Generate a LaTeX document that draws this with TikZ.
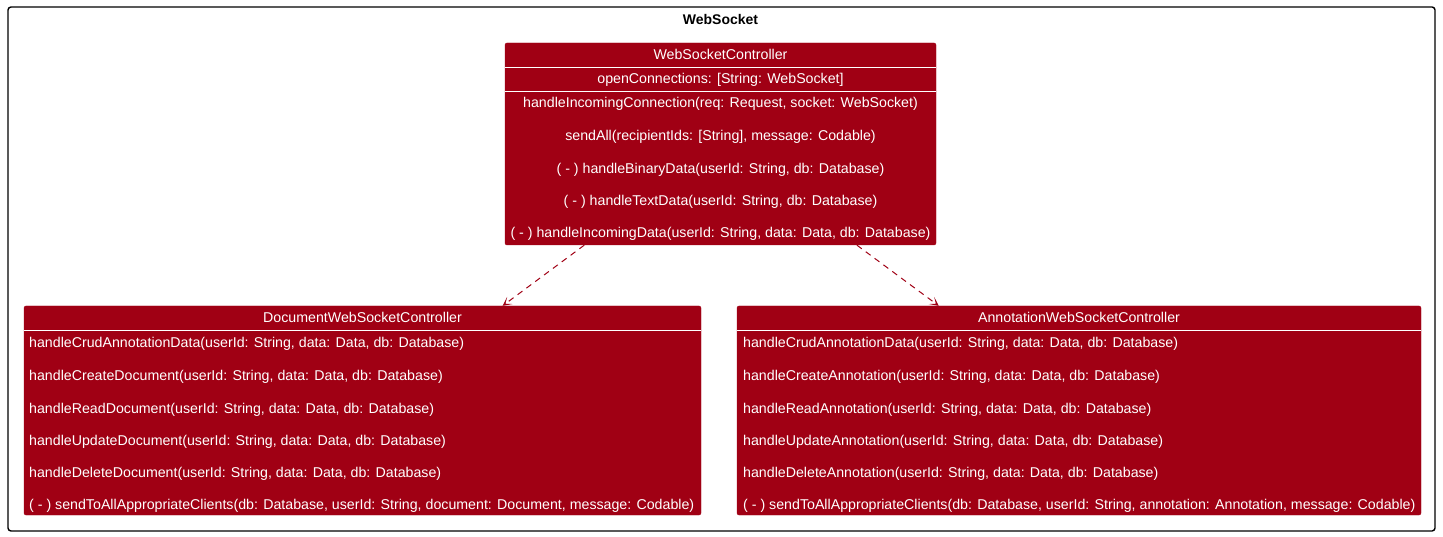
\documentclass[tikz,border=0pt]{standalone}
\usepackage{fontspec}
\setmainfont{Liberation Sans}
\usetikzlibrary{arrows.meta}
\definecolor{umlred}{RGB}{160,0,20}

\begin{document}
\begin{tikzpicture}[x=1pt,y=-1pt,>={Stealth[length=9pt,width=9pt,inset=5.5pt]},
  font=\fontsize{14.2}{17}\selectfont,
  classbox/.style={draw=umlred,fill=umlred,rounded corners=2pt,inner sep=0pt},
  member/.style={text=white,inner sep=0pt,text height=10pt,text depth=3pt,yshift=-1.5pt},
  sep/.style={white,line width=0.8pt},
  dep/.style={umlred,dash pattern=on 6pt off 5pt,->,line width=1pt}]
%%
\useasboundingbox (0,0) rectangle (1443,537);
\draw [line width=1.4pt,rounded corners=3pt] (8,7) rectangle (1435,531);
\node (pkg_title) at (720.5,19) {\fontsize{14}{16}\selectfont\bfseries WebSocket};
%
\node (ctrl) at (720.5,144) [classbox,minimum width=431pt,minimum height=202pt] {};
  \node (doc) at (362.5,410.5) [classbox,minimum width=677pt,minimum height=209pt] {};
  \node (annot) at (1079,410.5) [classbox,minimum width=684pt,minimum height=209pt] {};
%
\draw [sep] (ctrl.west |- 0,67) -- (ctrl.east |- 0,67);
  \draw [sep] (ctrl.west |- 0,91) -- (ctrl.east |- 0,91);
  \draw [sep] (doc.west |- 0,330) -- (doc.east |- 0,330);
  \draw [sep] (annot.west |- 0,330) -- (annot.east |- 0,330);
%
\node (ctrl_name) at (720.5,55) [member] {WebSocketController};
  \node (ctrl_a1) at (720.5,79) [member] {openConnections: [String: WebSocket]};
  \node (ctrl_m1) at (720.5,103) [member] {handleIncomingConnection(req: Request, socket: WebSocket)};
  \node (ctrl_m2) at (720.5,136) [member] {sendAll(recipientIds: [String], message: Codable)};
  \node (ctrl_m3) at (720.5,169) [member] {( - ) handleBinaryData(userId: String, db: Database)};
  \node (ctrl_m4) at (720.5,201) [member] {( - ) handleTextData(userId: String, db: Database)};
  \node (ctrl_m5) at (720.5,233) [member] {( - ) handleIncomingData(userId: String, data: Data, db: Database)};
%
\node (doc_name) at (362.5,318) [member] {DocumentWebSocketController};
  \node (doc_m1) at (29,343) [member,anchor=west] {handleCrudAnnotationData(userId: String, data: Data, db: Database)};
  \node (doc_m2) at (29,375) [member,anchor=west] {handleCreateDocument(userId: String, data: Data, db: Database)};
  \node (doc_m3) at (29,408) [member,anchor=west] {handleReadDocument(userId: String, data: Data, db: Database)};
  \node (doc_m4) at (29,440) [member,anchor=west] {handleUpdateDocument(userId: String, data: Data, db: Database)};
  \node (doc_m5) at (29,472) [member,anchor=west] {handleDeleteDocument(userId: String, data: Data, db: Database)};
  \node (doc_m6) at (29,504) [member,anchor=west] {( - ) sendToAllAppropriateClients(db: Database, userId: String, document: Document, message: Codable)};
%
\node (annot_name) at (1079,318) [member] {AnnotationWebSocketController};
  \node (annot_m1) at (743,343) [member,anchor=west] {handleCrudAnnotationData(userId: String, data: Data, db: Database)};
  \node (annot_m2) at (743,375) [member,anchor=west] {handleCreateAnnotation(userId: String, data: Data, db: Database)};
  \node (annot_m3) at (743,408) [member,anchor=west] {handleReadAnnotation(userId: String, data: Data, db: Database)};
  \node (annot_m4) at (743,440) [member,anchor=west] {handleUpdateAnnotation(userId: String, data: Data, db: Database)};
  \node (annot_m5) at (743,472) [member,anchor=west] {handleDeleteAnnotation(userId: String, data: Data, db: Database)};
  \node (annot_m6) at (743,504) [member,anchor=west] {( - ) sendToAllAppropriateClients(db: Database, userId: String, annotation: Annotation, message: Codable)};
%
\draw [dep] (ctrl) -- (doc);
  \draw [dep] (ctrl) -- (annot);
%
\end{tikzpicture}
\end{document}
